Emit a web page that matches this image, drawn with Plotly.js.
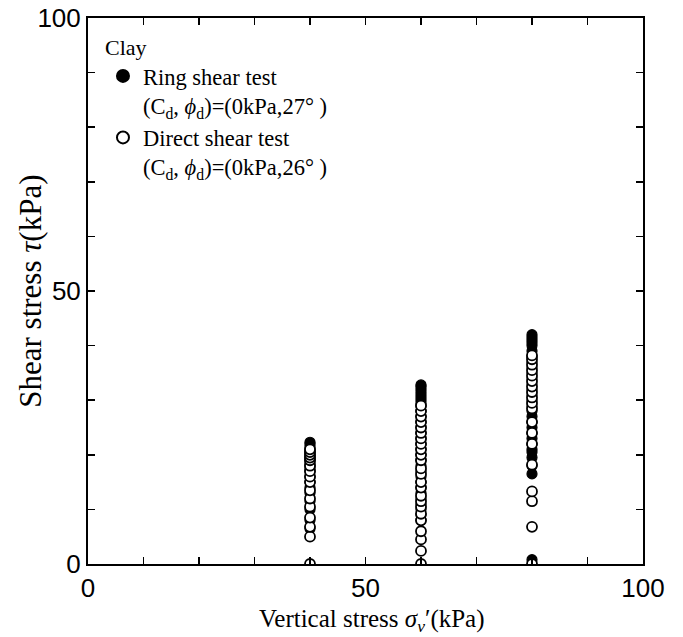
<!DOCTYPE html>
<html>
<head>
<meta charset="utf-8">
<script src="https://cdn.plot.ly/plotly-3.0.1.min.js"></script>
<style>html,body{margin:0;padding:0;background:#fff}#chart{width:683px;height:637px}</style>
</head>
<body>
<div id="chart"></div>
<script>
// Ring shear test (filled circles)
const ringX = [40,40,40,40,40,40,40,40,40,40,40,40,40,40,40,40,40,40,40,40,
  60,60,60,60,60,60,60,60,60,60,60,60,60,60,60,60,60,60,60,60,60,60,60,60,60,60,60,60,60,60,
  80,80,80,80,80,80,80,80,80,80,80,80,80,80,80,80,80,80,80,80,80,80,80,80,80,80,80,80,80];
const ringY = [6.5,8,10,11.5,13,14,15,16,17,17.5,18,18.5,19,19.5,20,20.5,21,21.5,22,22.3,
  8,9,10,11,12,13,14,15,16,17,18,19,20,21,22,23,24,25,26,27,28,29,29.5,30,30.5,31,31.5,32,32.5,32.8,
  0.8,16.5,18,19.5,20.5,21,22,23,24,25,26,27,28,29,30,31,32,33,34,35,36,37,38,39,40,40.5,41,41.5,42];
// Direct shear test (open circles)
const directX = [40,40,40,40,40,40,40,40,40,40,40,40,40,40,40,40,
  60,60,60,60,60,60,60,60,60,60,60,60,60,60,60,60,60,60,60,60,60,60,60,60,
  80,80,80,80,80,80,80,80,80,80,80,80,80,80,80,80,80,80,80];
const directY = [0,5,6.8,8.5,10.5,12,13.5,15,16,17,18,19,19.5,20,20.5,21,
  0,2.4,4.5,6,8,9.2,10.5,11.5,12.5,14,15,16.5,17.5,19,20,21,22,23,24,25,26,27,28,29,
  0,6.8,11.5,13.3,18.2,22,24,26,28.5,29.5,30.5,31.5,32.5,33.5,34.5,35.5,36.5,37.5,38.2];
const tickVals = [0,50,100];
const tickText = ['0','50','100'];
const legendTitle = 'Clay';
const ringName = 'Ring shear test<br>(C<sub>d</sub>, <i>ϕ</i><sub>d</sub>)=(0kPa,27°\u00a0)';
const directName = 'Direct shear test<br>(C<sub>d</sub>, <i>ϕ</i><sub>d</sub>)=(0kPa,26°\u00a0)';
const xTitle = 'Vertical stress <i>σ<sub>v</sub></i>′(kPa)';
const yTitle = 'Shear stress <i>τ</i>(kPa)';

const serif = 'Liberation Serif, Times New Roman, serif';
const sans = 'Liberation Sans, Arial, sans-serif';

const traces = [
  {x: ringX, y: ringY, type: 'scatter', mode: 'markers', name: ringName,
   marker: {symbol: 'circle', size: 10, color: '#000', line: {color: '#000', width: 1.2}}},
  {x: directX, y: directY, type: 'scatter', mode: 'markers', name: directName,
   marker: {symbol: 'circle', size: 10, color: '#fff', line: {color: '#000', width: 1.8}}}
];

const axisCommon = {
  showgrid: false, zeroline: false, showline: true, linecolor: '#000', linewidth: 2,
  mirror: 'ticks', ticks: 'inside', ticklen: 7, tickwidth: 1.5, tickcolor: '#000',
  tickmode: 'array', tickvals: tickVals, ticktext: tickText,
  tickfont: {family: sans, size: 26, color: '#000'},
  minor: {dtick: 10, ticks: 'inside', ticklen: 7, tickwidth: 1.5, tickcolor: '#000'},
  range: [0, 100], fixedrange: true
};

const layout = {
  width: 683, height: 637,
  margin: {l: 88, r: 40, t: 18, b: 73},
  paper_bgcolor: '#fff', plot_bgcolor: '#fff',
  showlegend: true,
  legend: {x: 0.027, y: 0.985, xanchor: 'left', yanchor: 'top', itemsizing: 'constant',
    bgcolor: 'rgba(0,0,0,0)', borderwidth: 0, valign: 'top', tracegroupgap: 1,
    title: {text: legendTitle, font: {family: serif, size: 22, color: '#000'}},
    font: {family: serif, size: 22.5, color: '#000'}},
  xaxis: Object.assign({}, axisCommon, {title: {text: ''}}),
  yaxis: Object.assign({}, axisCommon, {title: {text: ''}}),
  annotations: [
    {xref: 'paper', yref: 'paper', x: 0.512, y: -0.104, text: xTitle,
     showarrow: false, xanchor: 'center', yanchor: 'middle',
     font: {family: serif, size: 25, color: '#000'}},
    {xref: 'paper', yref: 'paper', x: -0.105, y: 0.5, text: yTitle, textangle: -90,
     showarrow: false, xanchor: 'center', yanchor: 'middle',
     font: {family: serif, size: 31, color: '#000'}}
  ]
};

Plotly.newPlot('chart', traces, layout, {staticPlot: true, displayModeBar: false});
</script>
</body>
</html>
